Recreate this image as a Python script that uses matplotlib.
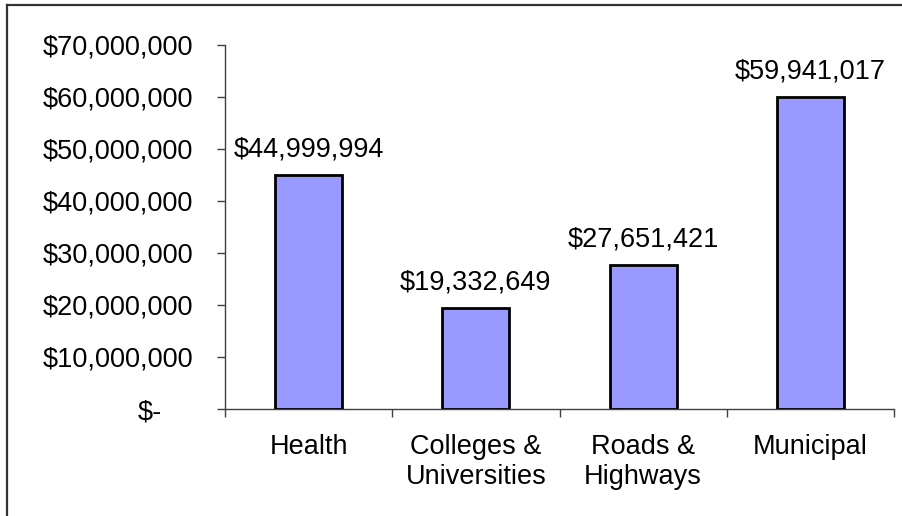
import matplotlib
matplotlib.use("Agg")
import matplotlib.pyplot as plt
from matplotlib.lines import Line2D
from matplotlib.transforms import ScaledTranslation

categories = ["Health", "Colleges &\nUniversities", "Roads &\nHighways", "Municipal"]
values = [44999994, 19332649, 27651421, 59941017]
y_ticks = [0, 10000000, 20000000, 30000000, 40000000, 50000000, 60000000, 70000000]

plt.rcParams["font.family"] = ["Liberation Sans", "DejaVu Sans"]
FS = 19.5

W, H, DPI = 902, 516, 100
fig = plt.figure(figsize=(W / DPI, H / DPI), dpi=DPI)

# plot area in pixel coordinates
left, right, bottom, top = 225, 894, 409, 45
ax = fig.add_axes([left / W, (H - bottom) / H, (right - left) / W, (bottom - top) / H])

x = list(range(len(categories)))
ax.bar(x, values, width=0.4, color="#9999FF", edgecolor="black", linewidth=2.0, zorder=3)

for xi, v in zip(x, values):
    ax.annotate(f"${v:,.0f}", (xi, v), xytext=(0, 9), textcoords="offset points",
                ha="center", va="bottom", fontsize=FS, color="black")

ax.set_xlim(-0.5, len(categories) - 0.5)
ax.set_ylim(0, 70000000)

ax.set_yticks(y_ticks)
ax.set_yticklabels(["$-" if t == 0 else f"${t:,.0f}" for t in y_ticks])
ax.tick_params(axis="y", direction="out", length=6, width=1, color="#404040",
               pad=17, labelsize=FS)

ax.set_xticks(x)
ax.set_xticklabels(categories, linespacing=1.22)
ax.set_xticks([i - 0.5 for i in range(len(categories) + 1)], minor=True)
ax.tick_params(axis="x", which="major", length=0, pad=18, labelsize=FS)
ax.tick_params(axis="x", which="minor", direction="out", length=5.5, width=1, color="#404040")

# the zero label sits further left, as in accounting number format
zero_label = ax.get_yticklabels()[0]
zero_label.set_transform(zero_label.get_transform() + ScaledTranslation(-0.31, 0, fig.dpi_scale_trans))

for s in ("top", "right"):
    ax.spines[s].set_visible(False)
for s in ("left", "bottom"):
    ax.spines[s].set_color("#404040")
    ax.spines[s].set_linewidth(1)

# chart area frame
fig.add_artist(Line2D([6.5 / W, 6.5 / W], [0, 1 - 5 / H], transform=fig.transFigure,
                      color="#333333", linewidth=1.6))
fig.add_artist(Line2D([6.5 / W, 1], [1 - 5 / H, 1 - 5 / H], transform=fig.transFigure,
                      color="#333333", linewidth=1.6))

fig.savefig("out.png", dpi=DPI, facecolor="white")
